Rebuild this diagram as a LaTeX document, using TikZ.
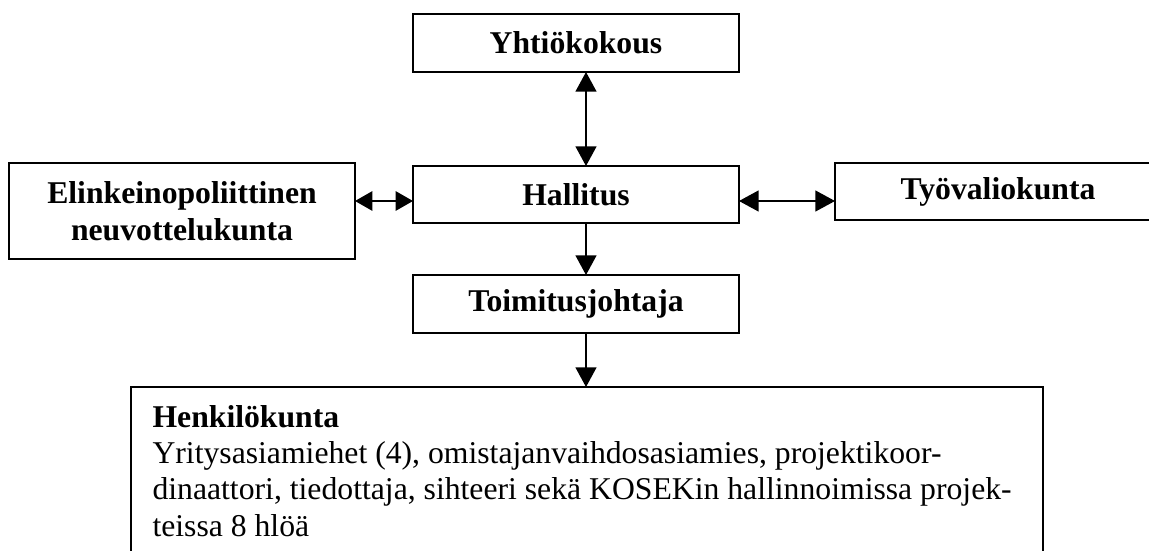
\documentclass[tikz,border=0pt]{standalone}
\usepackage{fontspec}
\setmainfont{Liberation Serif}
\usetikzlibrary{arrows.meta}
\newcommand\pxu{0.3786pt}
\begin{document}
\begin{tikzpicture}[x=0.3786pt,y=-0.3786pt,
  box/.style={draw, line width=0.8pt, inner sep=0pt, outer sep=0pt,
    font=\fontsize{12}{13.8}\selectfont\bfseries, align=center},
  tipv/.tip={Triangle[length=7.4pt,width=7.9pt]},
  tiph/.tip={Triangle[length=6.6pt,width=7.4pt]},
  both/.style={line width=0.5pt, tipv-tipv},
  bothh/.style={line width=0.5pt, tiph-tiph},
  single/.style={line width=0.5pt, -tipv}]
\useasboundingbox (0,0) rectangle (1149,551);
\clip (0,0) rectangle (1149,551);
\node[box, minimum width={326*\pxu}, minimum height={58*\pxu}] (yh) at (576,43) {Yhtiökokous};
\node[box, minimum width={326*\pxu}, minimum height={57*\pxu}] (ha) at (576,194.5) {Hallitus};
\node[box, minimum width={346*\pxu}, minimum height={96*\pxu}] (el) at (182,211) {Elinkeinopoliittinen\\neuvottelukunta};
\node[box, minimum width={326*\pxu}, minimum height={57*\pxu}] (ty) at (998,191.5) {Työvaliokunta};
\node[box, minimum width={326*\pxu}, minimum height={58*\pxu}] (to) at (576,304) {Toimitusjohtaja};
\node[draw, line width=0.8pt, inner sep=0pt, outer sep=0pt, anchor=north west,
  minimum width={912*\pxu}, minimum height={230*\pxu}] (he) at (131,387) {};
\node[anchor=base west, inner sep=0pt, font=\fontsize{12}{13.8}\selectfont] (het) at (152,427)
  {\parbox[t]{345pt}{\textbf{Henkilökunta}\\
  Yritysasiamiehet (4), omistajanvaihdosasiamies, projektikoor-\\
  dinaattori, tiedottaja, sihteeri sekä KOSEKin hallinnoimissa projek-\\
  teissa 8 hlöä}};
\coordinate (ax) at (586,0);
\coordinate (ay) at (0,201);
\draw[both] (yh.south -| ax) -- (ha.north -| ax);
\draw[bothh] (el.east |- ay) -- (ha.west |- ay);
\draw[both] (ha.east |- ay) -- (ty.west |- ay);
\draw[single] (ha.south -| ax) -- (to.north -| ax);
\draw[single] (to.south -| ax) -- (he.north -| ax);
\end{tikzpicture}
\end{document}
